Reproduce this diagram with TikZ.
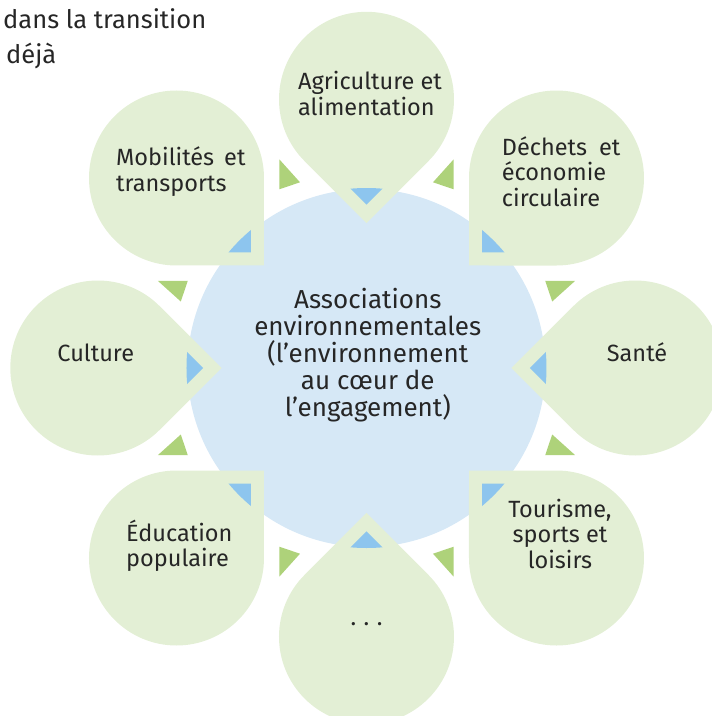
\documentclass[tikz,border=0pt]{standalone}
\usepackage{fontspec}
\setmainfont{Fira Sans}
\definecolor{leaf}{HTML}{E3EFD5}
\definecolor{hubblue}{HTML}{D6E8F6}
\definecolor{tipblue}{HTML}{8DC5EE}
\definecolor{tipgreen}{HTML}{AED27A}
\definecolor{ink}{HTML}{262626}
\tikzset{
  petal/.style={fill=leaf},
  hub/.style={fill=hubblue},
  bluetip/.style={fill=tipblue},
  greentip/.style={fill=tipgreen},
  lbl/.style={inner sep=0pt, text=ink, font=\fontsize{23.5}{25.5}\selectfont, align=left},
}
\begin{document}
\begin{tikzpicture}[x=1pt,y=1pt]
  \clip (-366.5,-348) rectangle (345.5,368);
  \fill[hub] (0,0) circle (179);
  \foreach \a in {0,45,...,315}{
    \fill[petal, rotate=\a] (144.96,0) -- (206.83,61.87)
      arc[start angle=135, end angle=-135, radius=87.5] -- cycle;
    \begin{scope}
      \clip (0,0) circle (180);
      \fill[bluetip, rotate=\a] (163.4,0) -- ++(40,40) -- ++(0,-80) -- cycle;
    \end{scope}
  }
  \foreach \a in {0,90,180,270}{
    \fill[greentip, rotate=\a] (-87.2,208.7) -- (-87.2,178.7) -- (-66.5,185.7) -- cycle;
    \fill[greentip, rotate=\a] (87.2,208.7) -- (87.2,178.7) -- (66.5,185.7) -- cycle;
  }
  \node[lbl, anchor=base west] (agri) at (-68.5,253) {Agriculture et\\alimentation};
  \node[lbl, anchor=base west] (dechets) at (135.2,162) {Déchets\hskip 12pt et\\économie\\circulaire};
  \node[lbl, anchor=base west] (sante) at (240.2,6.3) {Santé};
  \node[lbl, anchor=base, align=center] (tourisme) at (193.5,-200) {Tourisme,\\sports et\\loisirs};
  \node[lbl, anchor=base] (etc) at (0,-257.5) {.\hspace{0.32em}.\hspace{0.32em}.};
  \node[lbl, anchor=base west] (educ) at (-240.5,-198.7) {Éducation\\populaire};
  \node[lbl, anchor=base west] (culture) at (-309.2,6.3) {Culture};
  \node[lbl, anchor=base west] (mobil) at (-250.5,177) {Mobilités\hskip 10pt et\\transports};
  \node[lbl, anchor=base, align=center, font=\fontsize{26}{27.1}\selectfont] (centre) at (1.3,-48.7)
    {Associations\\environnementales\\(l’environnement\\au cœur de\\l’engagement)};
  \node[lbl, anchor=base west, font=\fontsize{25.5}{35}\selectfont] (intro1) at (-363.5,340) {dans la transition};
  \node[lbl, anchor=base west, font=\fontsize{25.5}{35}\selectfont] (intro2) at (-360.5,305) {déjà};
\end{tikzpicture}
\end{document}
